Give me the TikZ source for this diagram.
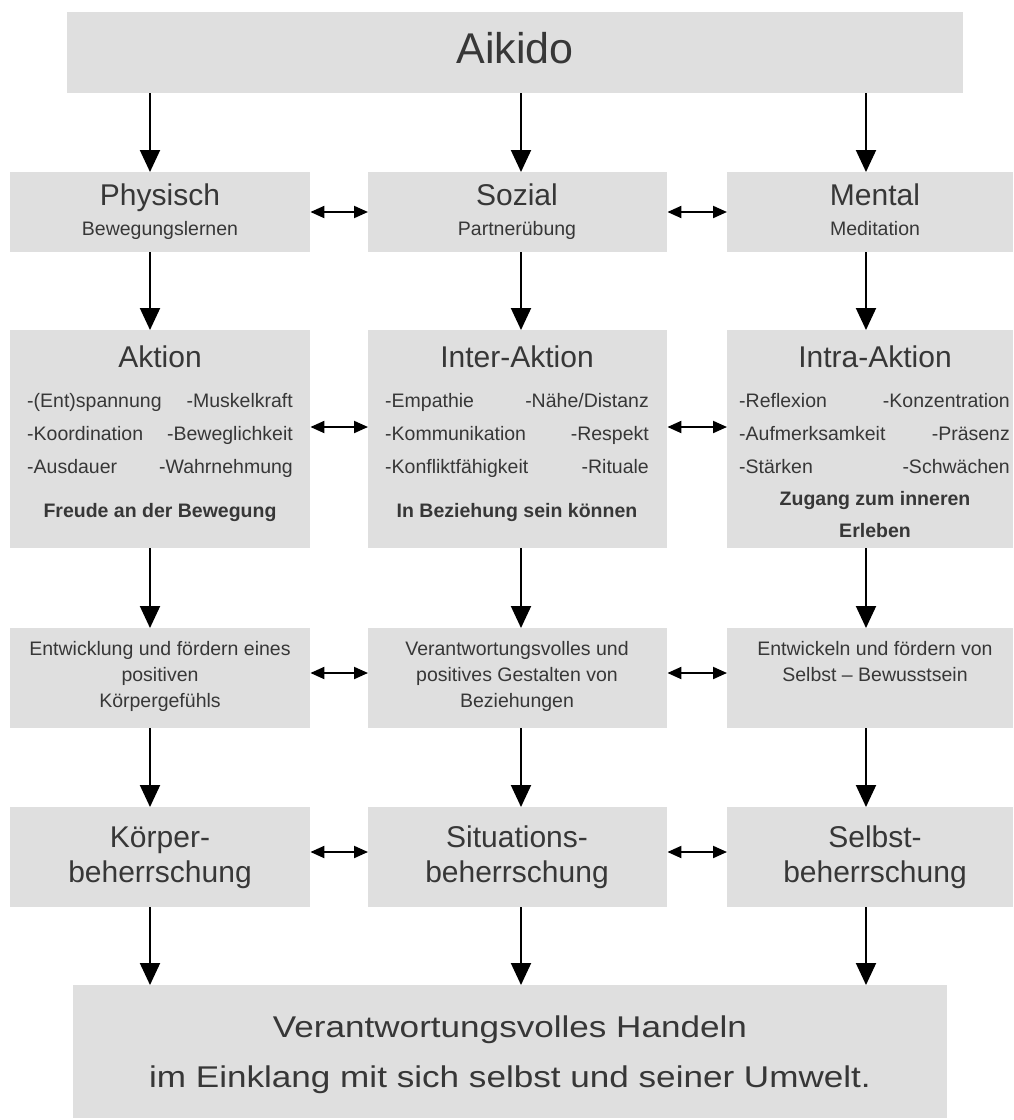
\documentclass[tikz,border=0pt]{standalone}
\usepackage{fontspec}
\setmainfont{Liberation Sans}
\usetikzlibrary{arrows.meta}
\definecolor{boxgray}{RGB}{223,223,223}
\definecolor{txtgray}{RGB}{55,55,55}
\newcommand\fA{\fontsize{43}{50}\selectfont}
\newcommand\fT{\fontsize{30}{36}\selectfont}
\newcommand\fS{\fontsize{19.5}{25}\selectfont}
\newcommand\fB{\fontsize{30}{50}\selectfont\addfontfeature{FakeStretch=1.17}}
\begin{document}
\begin{tikzpicture}[x=1pt,y=-1pt,
  box/.style={fill=boxgray,draw=none,inner sep=0pt,anchor=north west},
  tx/.style={text=txtgray,inner sep=0pt,anchor=base},
  txl/.style={text=txtgray,inner sep=0pt,anchor=base west,font=\fS},
  txr/.style={text=txtgray,inner sep=0pt,anchor=base east,font=\fS},
  dn/.style={line width=2pt,-{Triangle[width=20pt,length=22pt]}},
  dbl/.style={line width=2pt,{Triangle[width=12pt,length=14pt]}-{Triangle[width=12pt,length=14pt]}}]
\useasboundingbox (0,0) rectangle (1013,1120);
% column / row helper coordinates
\coordinate (cL) at (150,0);
\coordinate (cM) at (521,0);
\coordinate (cR) at (866,0);
\coordinate (y2) at (0,212);
\coordinate (y3) at (0,427);
\coordinate (y4) at (0,673);
\coordinate (y5) at (0,852);
% row 1
\node[box,minimum width=896pt,minimum height=81pt] (aik) at (67,12) {};
\node[tx,font=\fA] (aikT) at (515,63) {Aikido};
% row 2
\node[box,minimum width=300pt,minimum height=80pt] (phys) at (10,172) {};
\node[box,minimum width=299pt,minimum height=80pt] (soz) at (368,172) {};
\node[box,minimum width=286pt,minimum height=80pt] (ment) at (727,172) {};
\node[tx,font=\fT] (physT) at (160,205) {Physisch};
\node[tx,font=\fS] (physS) at (160,235) {Bewegungslernen};
\node[tx,font=\fT] (sozT) at (517,205) {Sozial};
\node[tx,font=\fS] (sozS) at (517,235) {Partnerübung};
\node[tx,font=\fT] (mentT) at (875,205) {Mental};
\node[tx,font=\fS] (mentS) at (875,235) {Meditation};
% row 3
\node[box,minimum width=300pt,minimum height=218pt] (akt) at (10,330) {};
\node[box,minimum width=299pt,minimum height=218pt] (inter) at (368,330) {};
\node[box,minimum width=286pt,minimum height=218pt] (intra) at (727,330) {};
\node[tx,font=\fT] (aktT) at (160,367) {Aktion};
\node[txl] (aktA1) at (27,407) {-(Ent)spannung};
\node[txr] (aktB1) at (293,407) {-Muskelkraft};
\node[txl] (aktA2) at (27,440) {-Koordination};
\node[txr] (aktB2) at (293,440) {-Beweglichkeit};
\node[txl] (aktA3) at (27,473) {-Ausdauer};
\node[txr] (aktB3) at (293,473) {-Wahrnehmung};
\node[tx,font=\fS\bfseries] (aktF) at (160,517) {Freude an der Bewegung};
\node[tx,font=\fT] (interT) at (517,367) {Inter-Aktion};
\node[txl] (interA1) at (385,407) {-Empathie};
\node[txr] (interB1) at (649,407) {-Nähe/Distanz};
\node[txl] (interA2) at (385,440) {-Kommunikation};
\node[txr] (interB2) at (649,440) {-Respekt};
\node[txl] (interA3) at (385,473) {-Konfliktfähigkeit};
\node[txr] (interB3) at (649,473) {-Rituale};
\node[tx,font=\fS\bfseries] (interF) at (517,517) {In Beziehung sein können};
\node[tx,font=\fT] (intraT) at (875,367) {Intra-Aktion};
\node[txl] (intraA1) at (739,407) {-Reflexion};
\node[txr] (intraB1) at (1010,407) {-Konzentration};
\node[txl] (intraA2) at (739,440) {-Aufmerksamkeit};
\node[txr] (intraB2) at (1010,440) {-Präsenz};
\node[txl] (intraA3) at (739,473) {-Stärken};
\node[txr] (intraB3) at (1010,473) {-Schwächen};
\node[tx,font=\fS\bfseries] (intraF1) at (875,505) {Zugang zum inneren};
\node[tx,font=\fS\bfseries] (intraF2) at (875,537) {Erleben};
% row 4
\node[box,minimum width=300pt,minimum height=100pt] (ent) at (10,628) {};
\node[box,minimum width=299pt,minimum height=100pt] (ver) at (368,628) {};
\node[box,minimum width=286pt,minimum height=100pt] (sel) at (727,628) {};
\node[tx,font=\fS] (entA) at (160,655) {Entwicklung und fördern eines};
\node[tx,font=\fS] (entB) at (160,681) {positiven};
\node[tx,font=\fS] (entC) at (160,707) {Körpergefühls};
\node[tx,font=\fS] (verA) at (517,655) {Verantwortungsvolles und};
\node[tx,font=\fS] (verB) at (517,681) {positives Gestalten von};
\node[tx,font=\fS] (verC) at (517,707) {Beziehungen};
\node[tx,font=\fS] (selA) at (875,655) {Entwickeln und fördern von};
\node[tx,font=\fS] (selB) at (875,681) {Selbst – Bewusstsein};
% row 5
\node[box,minimum width=300pt,minimum height=100pt] (koe) at (10,807) {};
\node[box,minimum width=299pt,minimum height=100pt] (sit) at (368,807) {};
\node[box,minimum width=286pt,minimum height=100pt] (sbh) at (727,807) {};
\node[tx,font=\fT] (koeA) at (160,847) {Körper-};
\node[tx,font=\fT] (koeB) at (160,882) {beherrschung};
\node[tx,font=\fT] (sitA) at (517,847) {Situations-};
\node[tx,font=\fT] (sitB) at (517,882) {beherrschung};
\node[tx,font=\fT] (sbhA) at (875,847) {Selbst-};
\node[tx,font=\fT] (sbhB) at (875,882) {beherrschung};
% row 6
\node[box,minimum width=874pt,minimum height=133pt] (han) at (73,985) {};
\node[tx,font=\fB] (hanA) at (510,1037) {Verantwortungsvolles Handeln};
\node[tx,font=\fB] (hanB) at (510,1087) {im Einklang mit sich selbst und seiner Umwelt.};
% down arrows
\foreach \c in {cL,cM,cR}{
  \draw[dn] (aik.south -| \c) -- (phys.north -| \c);
}
\foreach \a/\b in {phys/akt,akt/ent,ent/koe,koe/han}{
  \draw[dn] (\a.south -| cL) -- (\b.north -| cL);
}
\foreach \a/\b in {soz/inter,inter/ver,ver/sit,sit/han}{
  \draw[dn] (\a.south -| cM) -- (\b.north -| cM);
}
\foreach \a/\b in {ment/intra,intra/sel,sel/sbh,sbh/han}{
  \draw[dn] (\a.south -| cR) -- (\b.north -| cR);
}
% double arrows
\draw[dbl] (phys.east |- y2) -- (soz.west |- y2);
\draw[dbl] (soz.east |- y2) -- (ment.west |- y2);
\draw[dbl] (akt.east |- y3) -- (inter.west |- y3);
\draw[dbl] (inter.east |- y3) -- (intra.west |- y3);
\draw[dbl] (ent.east |- y4) -- (ver.west |- y4);
\draw[dbl] (ver.east |- y4) -- (sel.west |- y4);
\draw[dbl] (koe.east |- y5) -- (sit.west |- y5);
\draw[dbl] (sit.east |- y5) -- (sbh.west |- y5);
\end{tikzpicture}
\end{document}
